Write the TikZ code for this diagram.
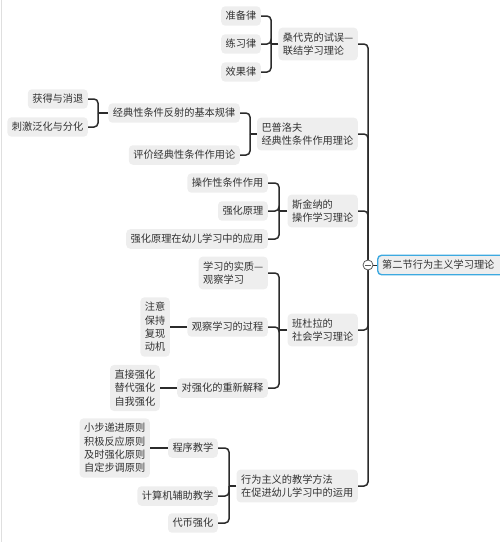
\documentclass[tikz,border=0pt]{standalone}
\usepackage{fontspec}
\setmainfont{Noto Sans CJK SC}
\usetikzlibrary{calc}
\definecolor{txt}{HTML}{333333}
\definecolor{boxbg}{HTML}{EEEEEE}
\definecolor{wire}{HTML}{2B2B2B}
\definecolor{rootblue}{HTML}{3DA9E0}

\begin{document}
\begin{tikzpicture}[
  x=1pt, y=-1pt,
  topic/.style={fill=boxbg, rounded corners=4pt, text=txt, font=\fontsize{10.2}{13.3}\selectfont, inner xsep=4.5pt, inner ysep=5pt, align=left, anchor=east},
  roottopic/.style={topic, draw=rootblue, line width=1.4pt, anchor=west},
  conn/.style={draw=wire, line width=1.5pt, rounded corners=4pt},
]
\useasboundingbox (0,0) rectangle (500,542);
\draw[gray!25, line width=1pt] (1,0) -- (1,542);

% centre topic
\node[roottopic] (root) at (377,265) {第二节行为主义学习理论\hspace*{10pt}};
\coordinate (hub) at (368,265);

% main branches
\node[topic] (thorndike) at (358,44) {桑代克的试误—\\联结学习理论};
\node[topic] (pavlov) at (358,134) {巴普洛夫\\经典性条件作用理论};
\node[topic] (skinner) at (358,211) {斯金纳的\\操作学习理论};
\node[topic] (bandura) at (358,330) {班杜拉的\\社会学习理论};
\node[topic] (method) at (358,486) {行为主义的教学方法\\在促进幼儿学习中的运用};

% thorndike
\node[topic] (readiness) at (261,16) {准备律};
\node[topic] (exercise) at (261,44) {练习律};
\node[topic] (effect) at (261,72) {效果律};

% pavlov
\node[topic] (basiclaw) at (240,113) {经典性条件反射的基本规律};
\node[topic] (evalcc) at (240,155) {评价经典性条件作用论};
\node[topic] (acquire) at (88,99) {获得与消退};
\node[topic] (general) at (88,127) {刺激泛化与分化};

% skinner
\node[topic] (operant) at (268,183) {操作性条件作用};
\node[topic] (reinf) at (268,211) {强化原理};
\node[topic] (reinfuse) at (268,239) {强化原理在幼儿学习中的应用};

% bandura
\node[topic] (essence) at (268,273) {学习的实质—\\观察学习};
\node[topic] (process) at (268,327) {观察学习的过程};
\node[topic] (reinterp) at (268,388) {对强化的重新解释};
\node[topic] (stages) at (170,327) {注意\\保持\\复现\\动机};
\node[topic] (kinds) at (160,388) {直接强化\\替代强化\\自我强化};

% teaching methods
\node[topic] (program) at (218,448) {程序教学};
\node[topic] (cai) at (218,496) {计算机辅助教学};
\node[topic] (token) at (218,523) {代币强化};
\node[topic] (rules) at (150,448) {小步递进原则\\积极反应原则\\及时强化原则\\自定步调原则};

% bracket joints
\coordinate (b1) at (271,44);
\coordinate (b2) at (250,134);
\coordinate (b2a) at (98,113);
\coordinate (b3) at (279,211);
\coordinate (b4) at (279,330);
\coordinate (b5) at (229,486);

% connectors
\foreach \n in {thorndike,pavlov,skinner,bandura,method}
  \draw[conn] (hub) |- (\n.east);

\draw[conn] (thorndike.west) -- (b1);
\foreach \n in {readiness,exercise,effect}
  \draw[conn] (b1) |- (\n.east);

\draw[conn] (pavlov.west) -- (b2);
\foreach \n in {basiclaw,evalcc}
  \draw[conn] (b2) |- (\n.east);
\draw[conn] (basiclaw.west) -- (b2a);
\foreach \n in {acquire,general}
  \draw[conn] (b2a) |- (\n.east);

\draw[conn] (skinner.west) -- (b3);
\foreach \n in {operant,reinf,reinfuse}
  \draw[conn] (b3) |- (\n.east);

\draw[conn] (bandura.west) -- (b4);
\foreach \n in {essence,process,reinterp}
  \draw[conn] (b4) |- (\n.east);
\draw[conn] (process.west) -- (stages.east);
\draw[conn] (reinterp.west) -- (kinds.east);

\draw[conn] (method.west) -- (b5);
\foreach \n in {program,cai,token}
  \draw[conn] (b5) |- (\n.east);
\draw[conn] (program.west) -- (rules.east);

% collapse marker
\draw[conn, line width=1pt] (hub) -- (root.west);
\node[circle, draw=gray!70!black, fill=white, line width=0.8pt, minimum size=10pt, inner sep=0pt] (fold) at (hub) {};
\draw[gray!70!black, line width=0.9pt] ($(fold.center)+(-3,0)$) -- ($(fold.center)+(3,0)$);

\end{tikzpicture}
\end{document}
